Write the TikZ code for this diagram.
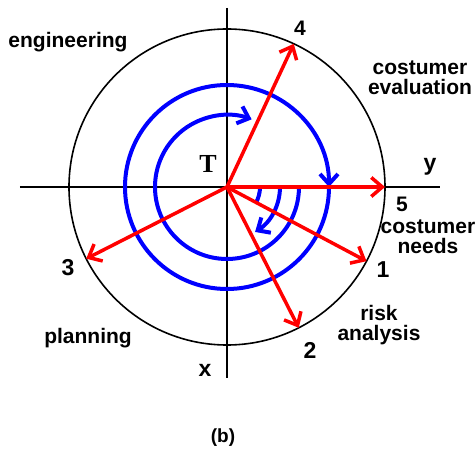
\documentclass[tikz,border=0pt]{standalone}
\usepackage{fontspec}
\setmainfont{Liberation Sans}
\newfontfamily\serifT{Liberation Serif}
\usetikzlibrary{arrows.meta, positioning}

\tikzset{
  axis/.style={line width=2pt},
  ray/.style={red, line width=3.5pt, -{Straight Barb[length=11pt, width=19pt]}},
  spiral/.style={blue, line width=4pt},
  spiralarrow/.style={spiral, -{Straight Barb[length=10pt, width=18pt]}},
  word/.style={font=\bfseries\fontsize{21}{20}\selectfont, align=center, inner sep=0pt},
  smallnum/.style={font=\bfseries\fontsize{21}{21}\selectfont, inner sep=0pt},
  bignum/.style={font=\bfseries\fontsize{23}{23}\selectfont, inner sep=0pt}
}

\begin{document}
\begin{tikzpicture}[x=1pt, y=1pt]
  \useasboundingbox (-227,-266) rectangle (248,187);
  \coordinate (O) at (0,0);

  % axes and outer circle
  \draw[axis] (0,179) -- (0,-191);
  \draw[axis] (-207,0) -- (213,0);
  \draw[line width=1.6pt] (O) circle[radius=158pt];

  % blue spiral
  \draw[spiral] (O) ++(0:33) arc[start angle=0, end angle=-29, radius=33pt];
  \draw[spiralarrow] (O) ++(0:53) arc[start angle=0, end angle=-58, radius=53pt];
  \draw[spiralarrow] (O) ++(0:72) arc[start angle=0, end angle=-290, radius=72pt];
  \draw[spiralarrow] (O) ++(0:102) arc[start angle=0, end angle=-360, radius=102pt];

  % red rays
  \foreach \a/\n in {-28/1, -63/2, 207/3, 65/4, 0/5}{
    \coordinate (p\n) at (\a:158);
    \draw[ray] (O) -- (p\n);
  }

  % numbers
  \node[bignum] (n1) at (156,-83) {1};
  \node[bignum] (n2) at (83,-163) {2};
  \node[bignum] (n3) at (-159,-81) {3};
  \node[smallnum] (n4) at (73,159) {4};
  \node[smallnum] (n5) at (175,-17) {5};

  % axis letters
  \node[bignum] (xlab) at (-22,-183) {x};
  \node[bignum] (ylab) at (203,20) {y};
  \node[font=\serifT\bfseries\fontsize{26}{26}\selectfont, inner sep=0pt] (T) at (-19,23) {T};

  % quadrant words
  \node[word] (eng) at (-159,145) {engineering};
  \node[word] (eval) at (193,109) {costumer\\evaluation};
  \node[word] (needs) at (201,-50) {costumer\\needs};
  \node[word] (risk) at (152,-138) {risk\\analysis};
  \node[word] (plan) at (-139,-151) {planning};

  % caption
  \node[font=\bfseries\fontsize{19}{19}\selectfont, inner sep=0pt] (cap) at (-4,-251) {(b)};
\end{tikzpicture}
\end{document}
